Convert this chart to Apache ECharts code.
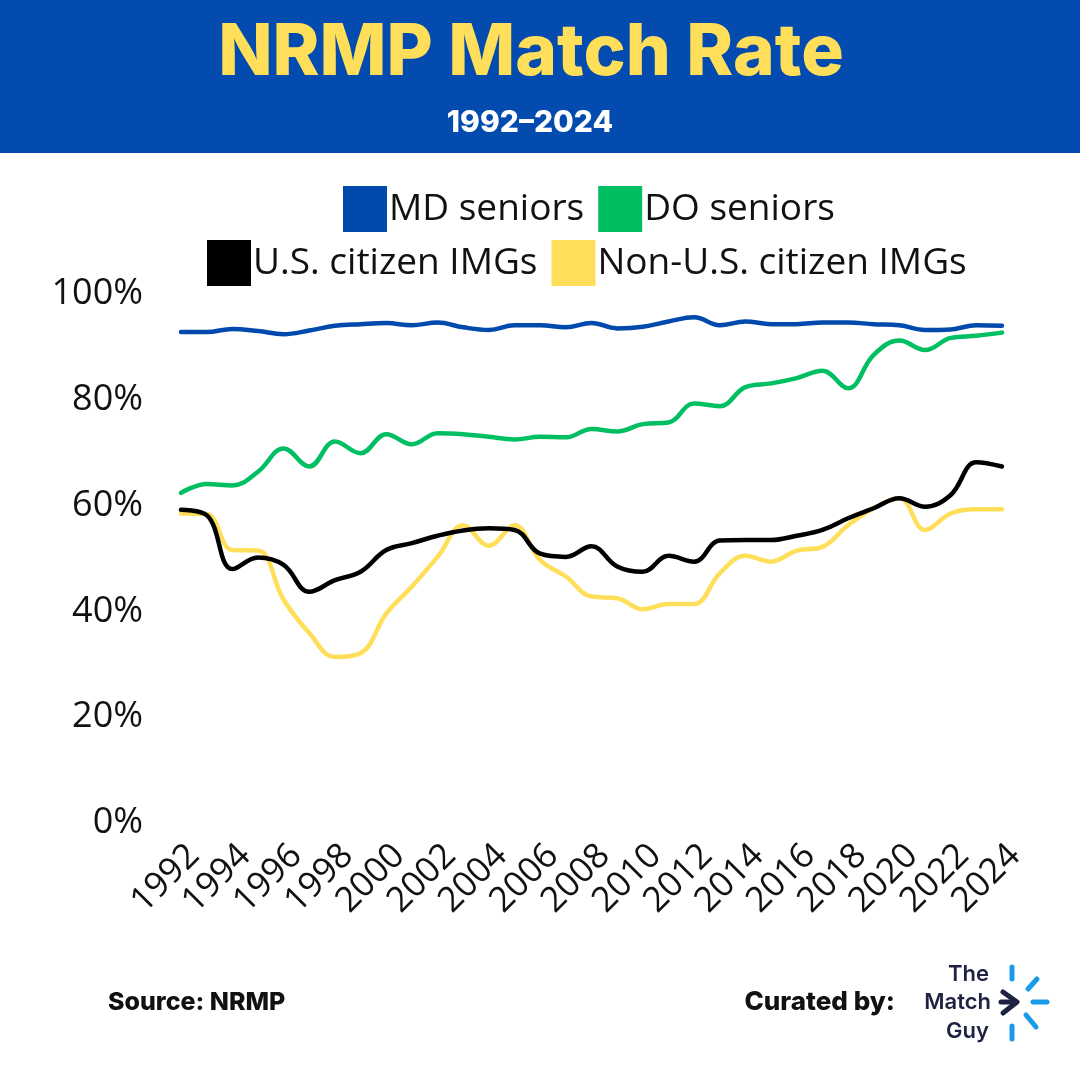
<!DOCTYPE html>
<html>
<head>
<meta charset="utf-8">
<script src="https://cdn.jsdelivr.net/npm/echarts@6/dist/echarts.min.js"></script>
<style>
  html, body { margin: 0; padding: 0; background: #ffffff; }
  #chart { width: 1080px; height: 1080px; }
</style>
</head>
<body>
<div id="chart"></div>
<script>
const years = ['1992','1993','1994','1995','1996','1997','1998','1999','2000','2001','2002','2003','2004','2005','2006','2007','2008','2009','2010','2011','2012','2013','2014','2015','2016','2017','2018','2019','2020','2021','2022','2023','2024'];
const mdSeniors = [92.8,92.8,93.4,93.0,92.4,93.1,94.0,94.3,94.5,94.1,94.6,93.7,93.2,94.1,94.1,93.7,94.5,93.5,93.8,94.8,95.6,94.1,94.8,94.3,94.3,94.6,94.6,94.3,94.1,93.2,93.3,94.1,94.0];
const doSeniors = [62.4,64.1,63.8,66.4,70.8,67.4,72.1,69.9,73.5,71.6,73.7,73.5,73.0,72.5,73.0,72.9,74.5,74.0,75.4,75.7,79.3,78.8,82.4,83.1,84.1,85.5,82.2,88.5,91.2,89.4,91.7,92.1,92.7];
const usCitizenIMGs = [59.2,58.2,48.0,50.2,48.8,43.7,45.9,47.5,51.6,52.9,54.3,55.3,55.7,55.4,50.9,50.3,52.3,48.5,47.5,50.5,49.4,53.4,53.5,53.5,54.3,55.4,57.6,59.5,61.4,59.8,62.0,68.2,67.4];
const nonUsCitizenIMGs = [58.5,58.4,51.6,51.5,42.2,35.9,31.4,32.1,39.6,44.7,50.3,56.3,52.4,56.3,49.7,46.6,42.8,42.5,40.4,41.4,41.4,47.2,50.5,49.4,51.5,52.2,56.3,59.5,61.4,55.4,58.5,59.3,59.3];
const seriesNames = ['MD seniors','DO seniors','U.S. citizen IMGs','Non-U.S. citizen IMGs'];
const seriesColors = ['#004AAD','#00BF63','#000000','#FFDE59'];

const chart = echarts.init(document.getElementById('chart'), null, { renderer: 'canvas' });
const dataSets = [mdSeniors, doSeniors, usCitizenIMGs, nonUsCitizenIMGs];

const legendText = { fontFamily: 'Open Sans', fontSize: 37, color: '#111111', padding: [0, 0, 0, -3] };

const option = {
  backgroundColor: '#ffffff',
  animation: false,
  color: seriesColors,
  legend: [
    {
      data: [seriesNames[0], seriesNames[1]],
      left: 343, top: 186, padding: 0,
      icon: 'rect', itemWidth: 44, itemHeight: 46, itemGap: 14,
      textStyle: legendText
    },
    {
      data: [seriesNames[2], seriesNames[3]],
      left: 207, top: 240, padding: 0,
      icon: 'rect', itemWidth: 44, itemHeight: 46, itemGap: 14,
      textStyle: legendText
    }
  ],
  grid: { left: 181, right: 78, top: 294, bottom: 257, containLabel: false },
  xAxis: {
    type: 'category',
    data: years,
    boundaryGap: false,
    axisLine: { show: false },
    axisTick: { show: false },
    axisLabel: {
      interval: 1,
      rotate: 45,
      margin: 40,
      padding: [0, -18, 0, 0],
      fontFamily: 'Open Sans',
      fontSize: 35,
      color: '#111111'
    },
    splitLine: { show: false }
  },
  yAxis: {
    type: 'value',
    min: 0, max: 100, interval: 20,
    axisLine: { show: false },
    axisTick: { show: false },
    splitLine: { show: false },
    axisLabel: {
      formatter: '{value}%',
      margin: 38,
      fontFamily: 'Open Sans',
      fontSize: 36,
      color: '#111111'
    }
  },
  series: seriesNames.map((name, i) => ({
    name: name,
    type: 'line',
    data: dataSets[i],
    smooth: 0.4,
    showSymbol: false,
    lineStyle: { width: 4.5, color: seriesColors[i], cap: 'round', join: 'round' },
    itemStyle: { color: seriesColors[i] },
    z: 10 - i
  })),
  graphic: [
    { type: 'rect', left: 0, top: 0, shape: { width: 1080, height: 153 }, style: { fill: '#034BAE' }, z: 0 },
    { type: 'text', x: 531, y: 54, style: { text: 'NRMP Match Rate', fontFamily: 'Inter', fontWeight: 800, fontSize: 71, fill: '#FFDE59', textAlign: 'center', textVerticalAlign: 'middle' } },
    { type: 'text', x: 530, y: 123, style: { text: '1992–2024', fontFamily: 'Inter', fontWeight: 800, fontSize: 30, fill: '#ffffff', textAlign: 'center', textVerticalAlign: 'middle' } },
    { type: 'text', x: 108, y: 1002, style: { text: 'Source: NRMP', fontFamily: 'Inter', fontWeight: 800, fontSize: 25, fill: '#111111', textAlign: 'left', textVerticalAlign: 'middle' } },
    { type: 'text', x: 895, y: 1002, style: { text: 'Curated by:', fontFamily: 'Inter', fontWeight: 800, fontSize: 26, fill: '#111111', textAlign: 'right', textVerticalAlign: 'middle' } },
    { type: 'text', x: 989, y: 974, style: { text: 'The', fontFamily: 'Inter', fontWeight: 600, fontSize: 22, fill: '#1F2240', textAlign: 'right', textVerticalAlign: 'middle' } },
    { type: 'text', x: 991, y: 1002, style: { text: 'Match', fontFamily: 'Inter', fontWeight: 600, fontSize: 22, fill: '#1F2240', textAlign: 'right', textVerticalAlign: 'middle' } },
    { type: 'text', x: 989, y: 1031, style: { text: 'Guy', fontFamily: 'Inter', fontWeight: 600, fontSize: 22, fill: '#1F2240', textAlign: 'right', textVerticalAlign: 'middle' } },
    { type: 'polyline', shape: { points: [[1003, 992], [1017, 1002], [1003, 1013]] }, style: { stroke: '#1F2240', lineWidth: 5, lineCap: 'round', lineJoin: 'round', fill: null } },
    { type: 'line', shape: { x1: 1001, y1: 1002, x2: 1015, y2: 1002 }, style: { stroke: '#1F2240', lineWidth: 5, lineCap: 'round' } },
    { type: 'line', shape: { x1: 1012, y1: 967, x2: 1012, y2: 979 }, style: { stroke: '#1A9BE8', lineWidth: 5, lineCap: 'round' } },
    { type: 'line', shape: { x1: 1037, y1: 979, x2: 1028, y2: 989 }, style: { stroke: '#1A9BE8', lineWidth: 5, lineCap: 'round' } },
    { type: 'line', shape: { x1: 1033, y1: 1002, x2: 1047, y2: 1002 }, style: { stroke: '#1A9BE8', lineWidth: 5, lineCap: 'round' } },
    { type: 'line', shape: { x1: 1026, y1: 1015, x2: 1036, y2: 1027 }, style: { stroke: '#1A9BE8', lineWidth: 5, lineCap: 'round' } },
    { type: 'line', shape: { x1: 1012, y1: 1026, x2: 1012, y2: 1039 }, style: { stroke: '#1A9BE8', lineWidth: 5, lineCap: 'round' } }
  ]
};
chart.setOption(option);
</script>
</body>
</html>
